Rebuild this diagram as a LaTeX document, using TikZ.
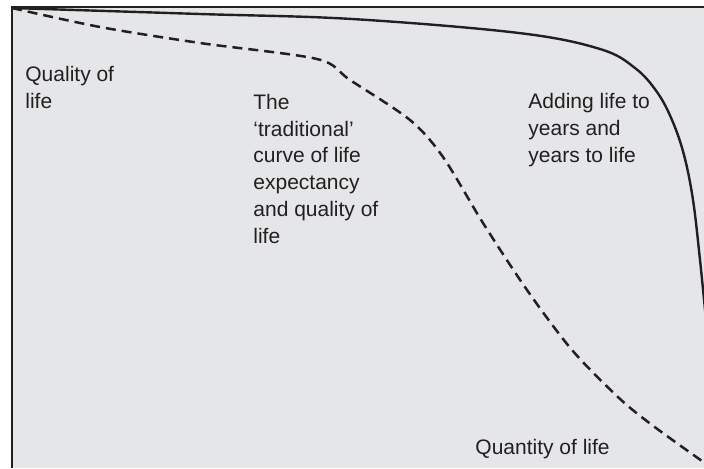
\documentclass[tikz,border=0pt]{standalone}
\usepackage{fontspec}
\setmainfont{Liberation Sans}
\usepackage{tikz}
\usetikzlibrary{positioning}
\definecolor{panelgray}{HTML}{E5E6E8}
\definecolor{inkdark}{HTML}{231F20}
\tikzset{
  lifetext/.style={anchor=base west, align=left, inner sep=0pt, text=inkdark,
    font=\fontsize{10.5}{13.35}\selectfont},
  newcurve/.style={line width=1.2pt, draw=inkdark},
  oldcurve/.style={line width=1.25pt, draw=inkdark, dash pattern=on 5pt off 3pt},
}
\begin{document}
\begin{tikzpicture}[x=0.5pt,y=-0.5pt]
          \useasboundingbox (0,0) rectangle (704,468);
          \coordinate (O) at (12,8);
          \coordinate (TL) at (12,7);
          \coordinate (BL) at (12,468);
          \coordinate (TR) at (704,7);
          \coordinate (BR) at (704,468);

          \fill[panelgray] (TL) rectangle (BR);

          \begin{scope}
            \clip (TL) rectangle (BR);
            \draw[oldcurve] plot[smooth, tension=0.5] coordinates {(O) (100,27) (200,43) (317,59)
              (350,80) (410,120) (443,157) (483,223) (527,290) (572,350) (619,398) (652,425)
              (702,461) (712,467)};
            \draw[newcurve] plot[smooth, tension=0.6] coordinates {(O) (200,14) (352,19) (519,33) (600,49)
              (635,68) (657,92) (672,120) (684,155) (693,200) (700,260) (706,320)};
          \end{scope}

          \draw[line width=1pt, inkdark] (BL) -- (TL) -- (TR);

          % base anchor sits on the last line
          \node[lifetext] (quality) at (25,108) {Quality of\\life};
          \node[lifetext] (traditional) at (253,243) {The\\`traditional'\\curve of life\\expectancy\\and quality of\\life};
          \node[lifetext] (adding) at (528,162) {Adding life to\\years and\\years to life};
          \node[lifetext] (quantity) at (475,454) {Quantity of life};
        \end{tikzpicture}
\end{document}
